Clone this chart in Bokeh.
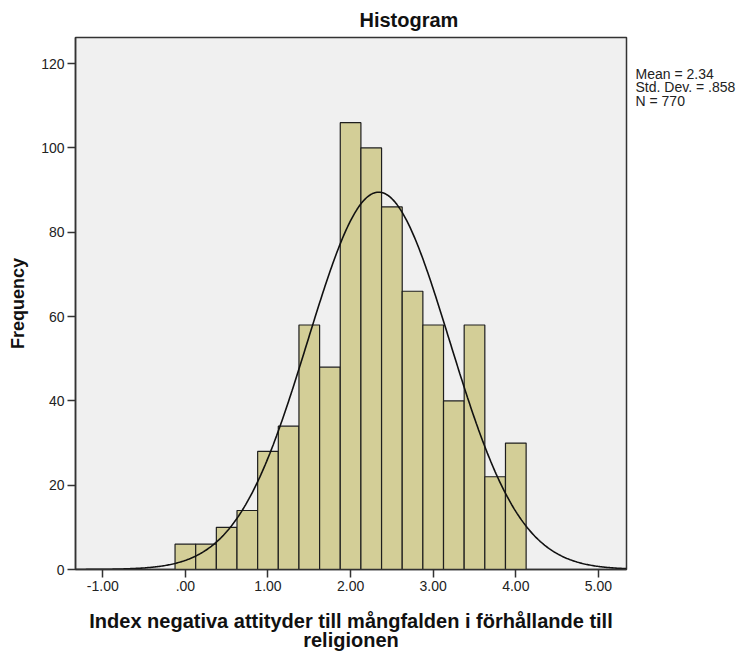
import numpy as np
from bokeh.plotting import figure
from bokeh.models import FixedTicker, Range1d, ColumnDataSource, LinearAxis
from bokeh.embed import file_html
from bokeh.resources import INLINE

# ---- data ----
bin_centers = [0.0, 0.25, 0.5, 0.75, 1.0, 1.25, 1.5, 1.75, 2.0, 2.25, 2.5,
               2.75, 3.0, 3.25, 3.5, 3.75, 4.0]
counts = [6, 6, 10, 14, 28, 34, 58, 48, 106, 100, 86, 66, 58, 40, 58, 22, 30]
bin_width = 0.25
mean_value = 2.34
std_dev = 0.858
n_obs = 770
x_ticks = [-1, 0, 1, 2, 3, 4, 5]
x_tick_labels = ["-1.00", ".00", "1.00", "2.00", "3.00", "4.00", "5.00"]
y_ticks = [0, 20, 40, 60, 80, 100, 120]
stats_lines = ["Mean = 2.34", "Std. Dev. = .858", "N = 770"]
title_text = "Histogram"
x_label = "Index negativa attityder till mångfalden i förhållande till\nreligionen"
y_label = "Frequency"

X_MIN, X_MAX = -1.33, 5.34
Y_MIN, Y_MAX = 0, 126.2
# vertical slots (in y-axis units) where the statistics lines sit, right of the frame
stats_slots = [117.6, 114.4, 111.2]

FONT = "Liberation Sans"

p = figure(width=741, height=653, output_backend="svg", toolbar_location=None,
           title=title_text,
           x_range=Range1d(X_MIN, X_MAX), y_range=Range1d(Y_MIN, Y_MAX),
           min_border_left=75, min_border_right=115, min_border_top=37,
           min_border_bottom=83)

p.title.align = "left"
p.title.offset = 284
p.title.standoff = 13
p.title.text_font = FONT
p.title.text_font_size = "20px"
p.title.text_font_style = "bold"
p.title.text_color = "#111111"

p.background_fill_color = "#F0F0F0"
p.border_fill_color = "white"
p.outline_line_color = "#333333"
p.outline_line_width = 1.5
p.xgrid.visible = False
p.ygrid.visible = False

centers = np.array(bin_centers)
src = ColumnDataSource(dict(left=centers - bin_width / 2,
                            right=centers + bin_width / 2,
                            top=counts))
p.quad(left="left", right="right", bottom=0, top="top", source=src,
       fill_color="#D3CE97", line_color="#1E1E1E", line_width=1.2)

xs = np.linspace(X_MIN, X_MAX, 500)
ys = n_obs * bin_width * np.exp(-0.5 * ((xs - mean_value) / std_dev) ** 2) / (std_dev * np.sqrt(2 * np.pi))
p.line(xs, ys, line_color="#111111", line_width=1.6)

# axes
for ax in (p.xaxis[0], p.yaxis[0]):
    ax.axis_line_color = "#333333"
    ax.axis_line_width = 1.5
    ax.major_tick_line_color = "#333333"
    ax.major_tick_line_width = 1.5
    ax.major_tick_out = 8
    ax.major_tick_in = 0
    ax.minor_tick_out = 0
    ax.minor_tick_in = 0
    ax.major_label_text_font = FONT
    ax.major_label_text_font_size = "14px"
    ax.major_label_text_color = "#222222"
    ax.major_label_standoff = 3
    ax.axis_label_text_font = FONT
    ax.axis_label_text_font_style = "bold"
    ax.axis_label_text_color = "#111111"

p.xaxis.ticker = FixedTicker(ticks=x_ticks)
p.xaxis.major_label_overrides = {t: l for t, l in zip(x_ticks, x_tick_labels)}
p.yaxis.ticker = FixedTicker(ticks=y_ticks)

p.xaxis.axis_label = x_label
p.xaxis.axis_label_text_font_size = "20px"
p.xaxis.axis_label_text_line_height = 0.87
p.xaxis.axis_label_standoff = 16

p.yaxis.axis_label = y_label
p.yaxis.axis_label_text_font_size = "18px"
p.yaxis.axis_label_standoff = 10

# statistics text block on the right side (as labels of an unlined right axis)
stats_axis = LinearAxis(ticker=FixedTicker(ticks=stats_slots),
                        major_label_overrides={s: t for s, t in zip(stats_slots, stats_lines)},
                        axis_line_color=None, major_tick_line_color=None,
                        minor_tick_line_color=None, major_tick_out=0, major_tick_in=0,
                        minor_tick_out=0, minor_tick_in=0,
                        major_label_standoff=9,
                        major_label_text_font=FONT,
                        major_label_text_font_size="14px",
                        major_label_text_color="#222222")
p.add_layout(stats_axis, "right")

open("out.html", "w").write(file_html(p, INLINE))
